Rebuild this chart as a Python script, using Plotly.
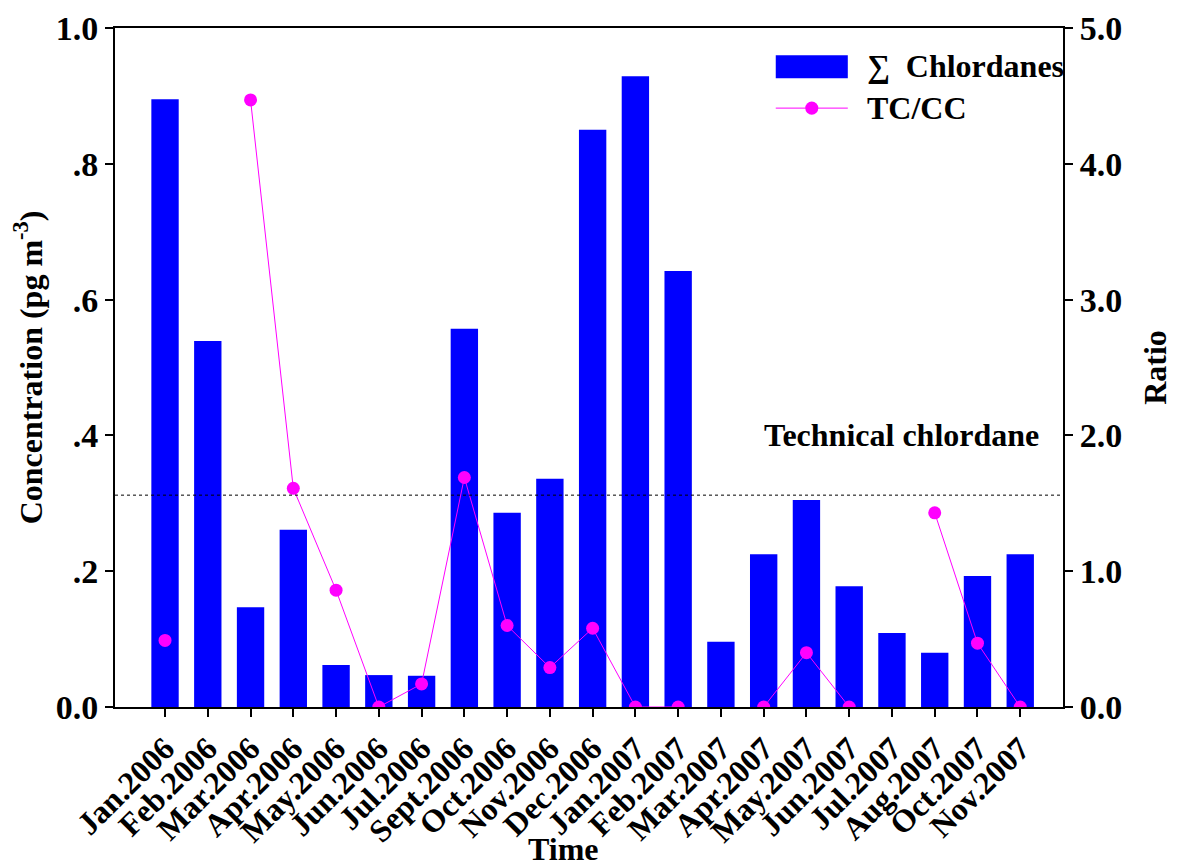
import plotly.graph_objects as go

# Sampling months
months = [
    "Jan.2006", "Feb.2006", "Mar.2006", "Apr.2006", "May.2006", "Jun.2006",
    "Jul.2006", "Sept.2006", "Oct.2006", "Nov.2006", "Dec.2006", "Jan.2007",
    "Feb.2007", "Mar.2007", "Apr.2007", "May.2007", "Jun.2007", "Jul.2007",
    "Aug.2007", "Oct.2007", "Nov.2007",
]

# Sum of chlordanes (pg m-3)
chlordanes = [
    0.895, 0.539, 0.147, 0.261, 0.062, 0.047, 0.046, 0.557, 0.286, 0.336,
    0.850, 0.929, 0.642, 0.096, 0.225, 0.305, 0.178, 0.109, 0.080, 0.193, 0.225,
]

# TC/CC ratio (None = not determined)
tc_cc = [
    0.49, None, 4.47, 1.61, 0.86, 0.0, 0.17, 1.69, 0.60, 0.29,
    0.58, 0.0, 0.0, None, 0.0, 0.40, 0.0, None, 1.43, 0.47, 0.0,
]

# TC/CC of technical chlordane
technical_ratio = 1.56

left_tickvals = [0.0, 0.2, 0.4, 0.6, 0.8, 1.0]
left_ticktext = ["0.0", ".2", ".4", ".6", ".8", "1.0"]
right_tickvals = [0, 1, 2, 3, 4, 5]
right_ticktext = ["0.0", "1.0", "2.0", "3.0", "4.0", "5.0"]

BLUE = "#0000FF"
MAGENTA = "#FF00FF"
FONT = "Liberation Serif"

fig = go.Figure()
fig.add_bar(
    x=months, y=chlordanes, width=0.64,
    marker=dict(color=BLUE, line=dict(width=0)),
    showlegend=False,
)
fig.add_scatter(
    x=months, y=tc_cc, yaxis="y2", mode="lines+markers",
    connectgaps=False,
    line=dict(color=MAGENTA, width=1),
    marker=dict(color=MAGENTA, size=13),
    showlegend=False,
)

bold = dict(family=FONT, color="black", weight="bold")

fig.update_layout(
    width=1188, height=868,
    margin=dict(l=115, r=125, t=28, b=161),
    paper_bgcolor="white", plot_bgcolor="white",
    xaxis=dict(
        range=[-1.17, 21.0], automargin=False,
        showline=True, linecolor="black", linewidth=2, mirror=True,
        ticks="outside", ticklen=8, tickwidth=2, tickcolor="black",
        tickangle=-45, tickfont=dict(size=32, **bold),
        showgrid=False, zeroline=False,
    ),
    yaxis=dict(
        range=[0, 1.0], automargin=False,
        tickvals=left_tickvals, ticktext=left_ticktext,
        showline=True, linecolor="black", linewidth=2,
        ticks="outside", ticklen=8, tickwidth=2, tickcolor="black",
        tickfont=dict(size=34, **bold),
        showgrid=False, zeroline=False,
        title=dict(text="Concentration (pg m<sup>-3</sup>)",
                   font=dict(size=32, **bold), standoff=4),
    ),
    yaxis2=dict(
        range=[0, 5.0], overlaying="y", side="right", automargin=False,
        tickvals=right_tickvals, ticktext=right_ticktext,
        showline=True, linecolor="black", linewidth=2,
        ticks="outside", ticklen=8, tickwidth=2, tickcolor="black",
        tickfont=dict(size=34, **bold),
        showgrid=False, zeroline=False,
        title=dict(text="Ratio", font=dict(size=32, **bold), standoff=22),
    ),
)

# X axis title, set below the slanted month labels
fig.add_annotation(
    text="Time", xref="paper", yref="paper",
    x=0.4726, y=-0.209, xanchor="center", yanchor="middle", showarrow=False,
    font=dict(size=32, **bold),
)

# Technical chlordane reference level
fig.add_shape(
    type="line", xref="paper", yref="y2",
    x0=0, x1=1, y0=technical_ratio, y1=technical_ratio,
    line=dict(color="black", width=1, dash="dot"),
)
fig.add_annotation(
    text="Technical chlordane", xref="paper", yref="paper",
    x=0.83, y=0.40, xanchor="center", yanchor="middle", showarrow=False,
    font=dict(size=32, **bold),
)

# Legend keys
fig.add_shape(
    type="rect", xref="paper", yref="paper",
    x0=0.697, x1=0.773, y0=0.926, y1=0.960,
    fillcolor=BLUE, line=dict(width=0),
)
fig.add_annotation(
    text="\u2211  Chlordanes", xref="paper", yref="paper",
    x=0.791, y=0.944, xanchor="left", yanchor="middle", showarrow=False,
    font=dict(size=32, **bold),
)
fig.add_shape(
    type="line", xref="paper", yref="paper",
    x0=0.697, x1=0.773, y0=0.882, y1=0.882,
    line=dict(color=MAGENTA, width=1),
)
fig.add_shape(
    type="circle", xref="paper", yref="paper",
    x0=0.735 - 0.0069, x1=0.735 + 0.0069, y0=0.882 - 0.0096, y1=0.882 + 0.0096,
    fillcolor=MAGENTA, line=dict(width=0),
)
fig.add_annotation(
    text="TC/CC", xref="paper", yref="paper",
    x=0.791, y=0.882, xanchor="left", yanchor="middle", showarrow=False,
    font=dict(size=32, **bold),
)

fig.write_html("out.html")
